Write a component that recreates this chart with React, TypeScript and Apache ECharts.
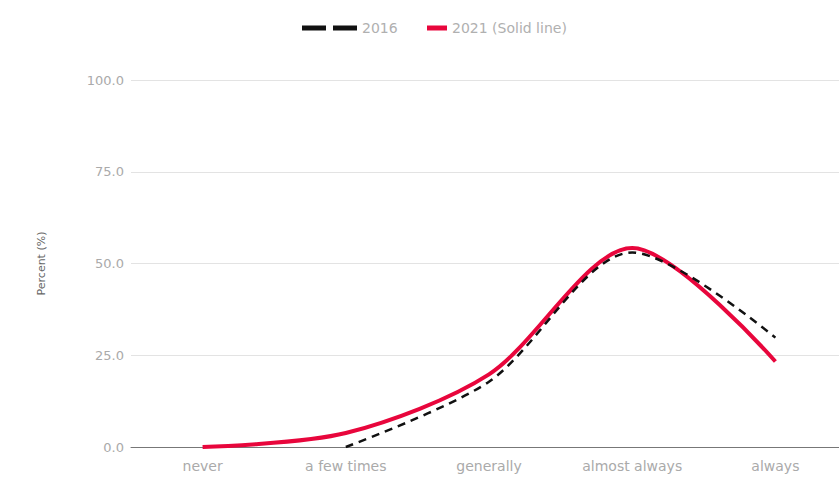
import React, { useEffect, useRef } from "react";
import * as echarts from "echarts";

const categories = ["never", "a few times", "generally", "almost always", "always"];
const series2016 = [null, 0, 17.8, 53, 29.8];
const series2021 = [0, 3.8, 19.8, 54.2, 23.3];
const yTicks = [0, 25, 50, 75, 100];

export default function App() {
  const ref = useRef<HTMLDivElement>(null);
  useEffect(() => {
    if (!ref.current) return;
    const chart = echarts.init(ref.current, null, { renderer: "svg" });
    const font = "'DejaVu Sans', sans-serif";
    chart.setOption({
      animation: false,
      textStyle: { fontFamily: font },
      legend: [
        {
          data: [{ name: "2016", icon: "path://M0,0h24v5h-24z M31,0h24v5h-24z" }],
          left: 297,
          top: 16,
          itemWidth: 55,
          itemHeight: 5,
          textStyle: { color: "#b0b0b0", fontSize: 14, fontFamily: font },
        },
        {
          data: [{ name: "2021 (Solid line)", icon: "rect" }],
          left: 422,
          top: 16,
          itemWidth: 20,
          itemHeight: 5,
          textStyle: { color: "#b0b0b0", fontSize: 14, fontFamily: font },
        },
      ],
      grid: { left: 131, top: 80, width: 716, height: 367 },
      xAxis: {
        type: "category",
        data: categories,
        boundaryGap: true,
        axisLine: { lineStyle: { color: "#777", width: 1 } },
        axisTick: { show: false },
        axisLabel: { color: "#aaa", fontSize: 14, margin: 12, fontFamily: font },
      },
      yAxis: {
        type: "value",
        min: yTicks[0],
        max: yTicks[yTicks.length - 1],
        interval: 25,
        name: "Percent (%)",
        nameLocation: "middle",
        nameGap: 84,
        nameTextStyle: { color: "#666", fontSize: 11, fontFamily: font },
        axisLine: { show: false },
        axisTick: { show: false },
        axisLabel: {
          color: "#aaa",
          fontSize: 13,
          margin: 7,
          fontFamily: font,
          formatter: (v: number) => v.toFixed(1),
        },
        splitLine: { lineStyle: { color: "#e3e3e3", width: 1 } },
      },
      series: [
        {
          name: "2016",
          type: "line",
          data: series2016,
          smooth: 0.3,
          showSymbol: false,
          symbol: "none",
          color: "#111",
          lineStyle: { color: "#111", width: 2.5, type: [8, 6] },
          z: 3,
        },
        {
          name: "2021 (Solid line)",
          type: "line",
          data: series2021,
          smooth: 0.3,
          showSymbol: false,
          symbol: "none",
          color: "#e8063c",
          lineStyle: { color: "#e8063c", width: 4 },
          z: 2,
        },
      ],
    });
    return () => chart.dispose();
  }, []);
  return (
    <div
      ref={ref}
      style={{ position: "fixed", left: 0, top: 0, width: 870, height: 493, background: "#fff" }}
    />
  );
}
